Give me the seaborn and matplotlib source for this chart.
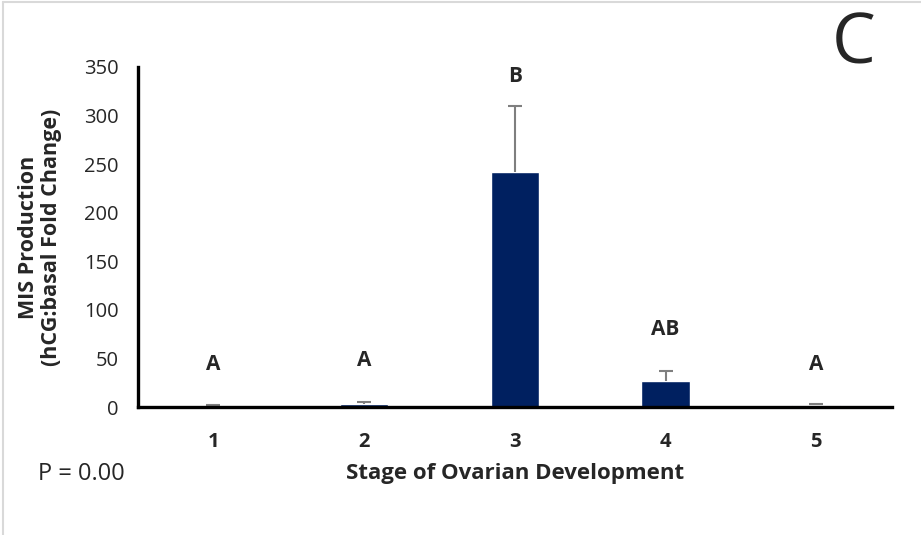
import matplotlib
matplotlib.use('Agg')
import matplotlib.pyplot as plt
import seaborn as sns
import pandas as pd
from matplotlib.lines import Line2D

# values
stages = ['1', '2', '3', '4', '5']
fold_change = [1.2, 3.5, 242, 27, 1.8]
sem_upper = [1.0, 1.5, 68, 10, 1.0]
letters = ['A', 'A', 'B', 'AB', 'A']
letter_y = [44, 48, 340, 80, 44]

df = pd.DataFrame({'stage': stages, 'fold': fold_change})

sns.set_style('white')
plt.rcParams['font.family'] = ['Open Sans', 'DejaVu Sans']

fig = plt.figure(figsize=(9.21, 5.35), dpi=100)
ax = fig.add_axes([0.150, 0.239, 0.818, 0.636])

sns.barplot(data=df, x='stage', y='fold', color='#002060', saturation=1,
            width=0.32, errorbar=None, ax=ax)
eb = ax.errorbar(range(len(stages)), fold_change,
                 yerr=[[0] * len(stages), sem_upper], fmt='none',
                 ecolor='#7f7f7f', elinewidth=1.5, capsize=5, capthick=1.5)
# only the upper cap, as in the original
eb[1][0].set_visible(False)

for i, (lab, yy) in enumerate(zip(letters, letter_y)):
    ax.text(i, yy, lab, ha='center', va='center', fontsize=15, fontweight='bold')

ax.set_ylim(0, 350)
ax.set_xlim(-0.5, 4.5)
ax.set_yticks(range(0, 351, 50))
sns.despine(ax=ax)
for s in ['left', 'bottom']:
    ax.spines[s].set_linewidth(2.4)
    ax.spines[s].set_color('black')
ax.tick_params(axis='y', length=0, labelsize=14.5, pad=14)
ax.tick_params(axis='x', length=0, labelsize=14.5, pad=18)
for t in ax.get_xticklabels():
    t.set_fontweight('bold')

ax.set_xlabel('Stage of Ovarian Development', fontsize=16, fontweight='bold', labelpad=8)
ax.set_ylabel('MIS Production\n(hCG:basal Fold Change)', fontsize=15.5,
              fontweight='bold', labelpad=16, linespacing=1.1)

fig.text(38 / 921, 1 - 474 / 535, 'P = 0.00', fontsize=17, va='center', ha='left')
fig.text(854 / 921, 1 - 46 / 535, 'C', fontsize=50, va='center', ha='center')

# thin gray frame on left and top edges
fig.add_artist(Line2D([3 / 921, 3 / 921], [0, 1 - 2 / 535], color='#d9d9d9', lw=1.5,
                      transform=fig.transFigure))
fig.add_artist(Line2D([3 / 921, 1], [1 - 2 / 535, 1 - 2 / 535], color='#d9d9d9', lw=1.5,
                      transform=fig.transFigure))

fig.savefig('out.png', dpi=100)
